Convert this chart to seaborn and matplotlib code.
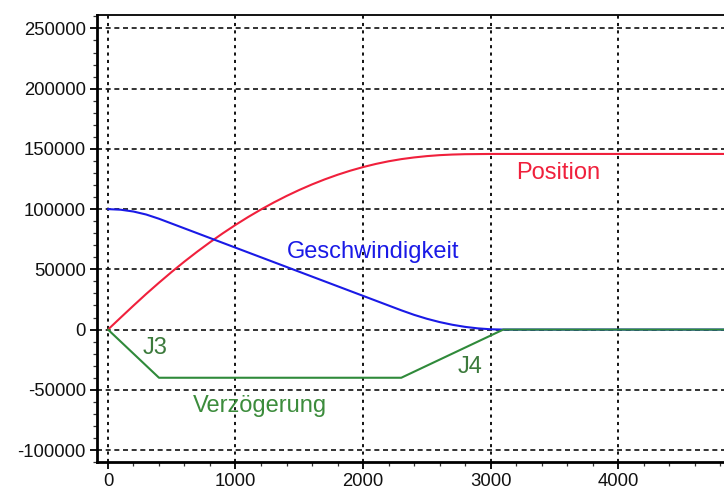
import matplotlib
matplotlib.use("Agg")
import matplotlib.pyplot as plt
import seaborn as sns
import pandas as pd
from matplotlib.ticker import MultipleLocator

# ---- data ----
time_ms = [0, 100, 200, 300, 400, 500, 600, 700, 800, 900, 1000, 1100, 1200,
           1300, 1400, 1500, 1600, 1700, 1800, 1900, 2000, 2100, 2200, 2300,
           2400, 2500, 2600, 2700, 2800, 2900, 3000, 3100, 4900]
position = [0, 10000, 19900, 29600, 38900, 47900, 56500, 64700, 72500, 79900,
            86900, 93500, 99700, 105500, 110900, 115900, 120500, 124700,
            128500, 131900, 134900, 137500, 139700, 141500, 142900, 144000,
            144800, 145300, 145600, 145700, 145800, 145800, 145800]
velocity = [100000, 99500, 98000, 95500, 92000, 88000, 84000, 80000, 76000,
            72000, 68000, 64000, 60000, 56000, 52000, 48000, 44000, 40000,
            36000, 32000, 28000, 24000, 20000, 16000, 12250, 9000, 6250, 4000,
            2250, 1000, 250, 0, 0]
decel_time = [0, 400, 2300, 3100, 4900]
deceleration = [0, -40000, -40000, 0, 0]

x_ticks = [0, 1000, 2000, 3000, 4000]
y_ticks = [-100000, -50000, 0, 50000, 100000, 150000, 200000, 250000]

c_pos = "#f0203c"
c_vel = "#1a1ae6"
c_dec = "#2f8a3a"

sns.set_theme(style="white")
plt.rcParams["font.family"] = ["Liberation Sans", "DejaVu Sans"]

fig = plt.figure(figsize=(7.24, 4.90), dpi=100)
ax = fig.add_axes([0.134, 0.057, 0.866, 0.912])

df_pv = pd.DataFrame({"t": time_ms, "pos": position, "vel": velocity})
df_a = pd.DataFrame({"t": decel_time, "acc": deceleration})

sns.lineplot(data=df_pv, x="t", y="pos", ax=ax, color=c_pos, lw=1.5,
             estimator=None, sort=False)
sns.lineplot(data=df_pv, x="t", y="vel", ax=ax, color=c_vel, lw=1.5,
             estimator=None, sort=False)
sns.lineplot(data=df_a, x="t", y="acc", ax=ax, color=c_dec, lw=1.5,
             estimator=None, sort=False)

ax.set_xlim(-86, 4831)
ax.set_ylim(-110000, 261000)
ax.set_xticks(x_ticks)
ax.set_yticks(y_ticks)
ax.set_xticklabels([str(v) for v in x_ticks])
ax.set_yticklabels([str(v) for v in y_ticks])
ax.xaxis.set_minor_locator(MultipleLocator(200))
ax.yaxis.set_minor_locator(MultipleLocator(10000))
ax.set_xlabel("")
ax.set_ylabel("")

ax.set_axisbelow(True)
ax.xaxis.grid(True, which="major", color="#111111", linestyle=(0, (1.6, 2.2)), lw=1.4)
ax.yaxis.grid(True, which="major", color="#111111", linestyle=(0, (3, 2.2)), lw=1.2)
ax.tick_params(axis="both", which="major", direction="out", length=5,
               width=1.3, color="black", labelsize=13.3, labelcolor="#111111",
               left=True, bottom=True, pad=3)
ax.tick_params(axis="both", which="minor", direction="out", length=3,
               width=0.9, color="#333333", left=True, bottom=True)

for s in ["left", "bottom"]:
    ax.spines[s].set_color("black")
    ax.spines[s].set_linewidth(2.0)
ax.spines["top"].set_color("black")
ax.spines["top"].set_linewidth(1.3)
ax.spines["right"].set_visible(False)

ax.text(3530, 130200, "Position", color=c_pos, fontsize=17,
        ha="center", va="center")
ax.text(2078, 64700, "Geschwindigkeit", color=c_vel, fontsize=17,
        ha="center", va="center")
ax.text(1192, -63800, "Verzögerung", color="#3c8c3c", fontsize=17,
        ha="center", va="center")
ax.text(369, -14900, "J3", color="#3c7a3c", fontsize=17,
        ha="center", va="center")
ax.text(2839, -30700, "J4", color="#3c7a3c", fontsize=17,
        ha="center", va="center")

fig.savefig("out.png", dpi=100)
